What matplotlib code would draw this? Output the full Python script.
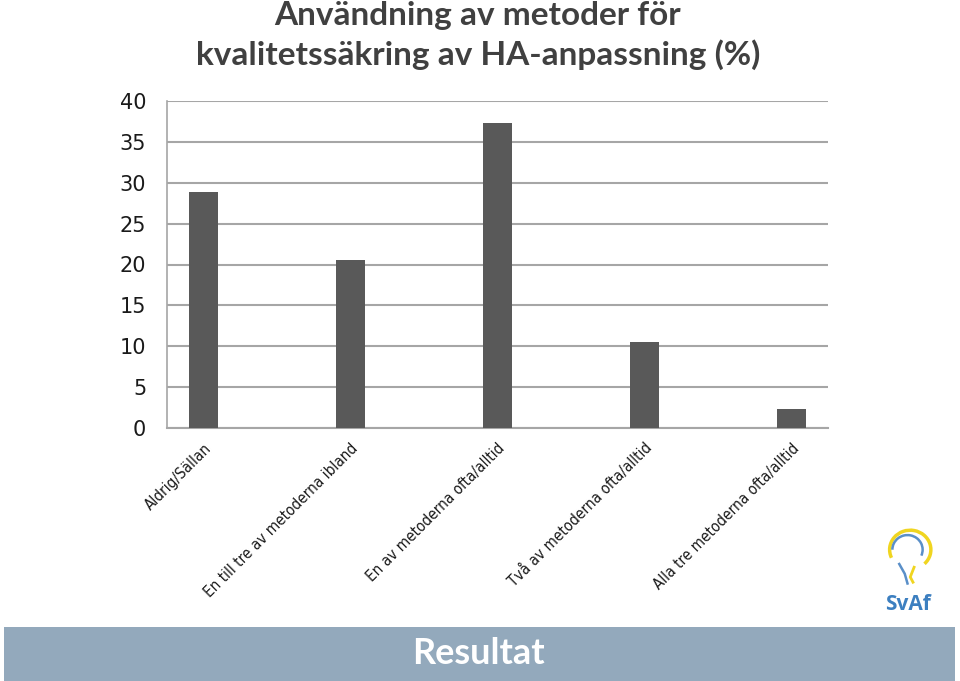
import matplotlib
matplotlib.use("Agg")
import matplotlib.pyplot as plt
import matplotlib.transforms as mtransforms
from matplotlib.patches import Rectangle, Arc

plt.rcParams["font.family"] = ["DejaVu Sans"]

categories = ["Aldrig/Sällan", "En till tre av metoderna ibland", "En av metoderna ofta/alltid",
              "Två av metoderna ofta/alltid", "Alla tre metoderna ofta/alltid"]
values = [28.9, 20.6, 37.3, 10.5, 2.3]
yticks = [0, 5, 10, 15, 20, 25, 30, 35, 40]

fig = plt.figure(figsize=(9.6, 6.81), dpi=100)
ax = fig.add_axes([167/960, 1-428/681, (828-167)/960, (428-101)/681])

x = list(range(len(categories)))
ax.bar(x, values, width=0.2, color="#595959", zorder=3)
ax.set_xlim(-0.25, 4.25)
ax.set_ylim(0, 40)
ax.set_yticks(yticks)
ax.set_yticklabels([str(t) for t in yticks], fontsize=15, color="#1a1a1a")
ax.yaxis.grid(True, color="#a6a6a6", linewidth=1.5, zorder=0)
ax.tick_params(axis="y", length=0, pad=15)
ax.tick_params(axis="x", length=0, pad=9)
ax.set_xticks(x)
ax.set_xticklabels(categories, rotation=45, ha="right", rotation_mode="anchor",
                   fontsize=11, color="#1a1a1a", fontstretch="condensed")
offset = mtransforms.ScaledTranslation(0.0, 0.0, fig.dpi_scale_trans)
for lbl in ax.get_xticklabels():
    lbl.set_transform(lbl.get_transform() + offset)
for s in ["top", "right"]:
    ax.spines[s].set_visible(False)
ax.spines["left"].set_color("#a6a6a6")
ax.spines["bottom"].set_color("#a6a6a6")
ax.spines["left"].set_linewidth(1.2)
ax.spines["bottom"].set_linewidth(1.5)

fig.text(478/960, 1-15/681, "Användning av metoder för", ha="center", va="center",
         fontsize=24, fontweight="bold", family="Lato", color="#404040")
fig.text(478/960, 1-55/681, "kvalitetssäkring av HA-anpassning (%)", ha="center", va="center",
         fontsize=24, fontweight="bold", family="Lato", color="#404040")

# bottom banner
fig.patches.append(Rectangle((4/960, 1-681/681), (955-4)/960, (681-627)/681,
                             transform=fig.transFigure, facecolor="#93a9bc",
                             edgecolor="none", zorder=0))
fig.text(478/960, 1-653/681, "Resultat", ha="center", va="center", fontsize=26,
         fontweight="bold", family="Lato", color="white")

# logo
fig.text(908/960, 1-605/681, "SvAf", ha="center", va="center", fontsize=15,
         fontweight="bold", family="Open Sans", color="#3c7fc0")
lax = fig.add_axes([880/960, 1-590/681, 55/960, 65/681])
lax.set_xlim(0, 1); lax.set_ylim(0, 1); lax.axis("off")
lax.add_patch(Arc((0.55, 0.62), 0.75, 0.6, theta1=-40, theta2=200, color="#f0d520", lw=2.5))
lax.add_patch(Arc((0.5, 0.62), 0.55, 0.45, theta1=-20, theta2=180, color="#5a8fc8", lw=1.8))
lax.plot([0.35, 0.45, 0.5], [0.4, 0.25, 0.1], color="#5a8fc8", lw=1.8)
lax.plot([0.62, 0.55, 0.6], [0.35, 0.2, 0.12], color="#f0d520", lw=2)

fig.savefig("out.png", dpi=100)
